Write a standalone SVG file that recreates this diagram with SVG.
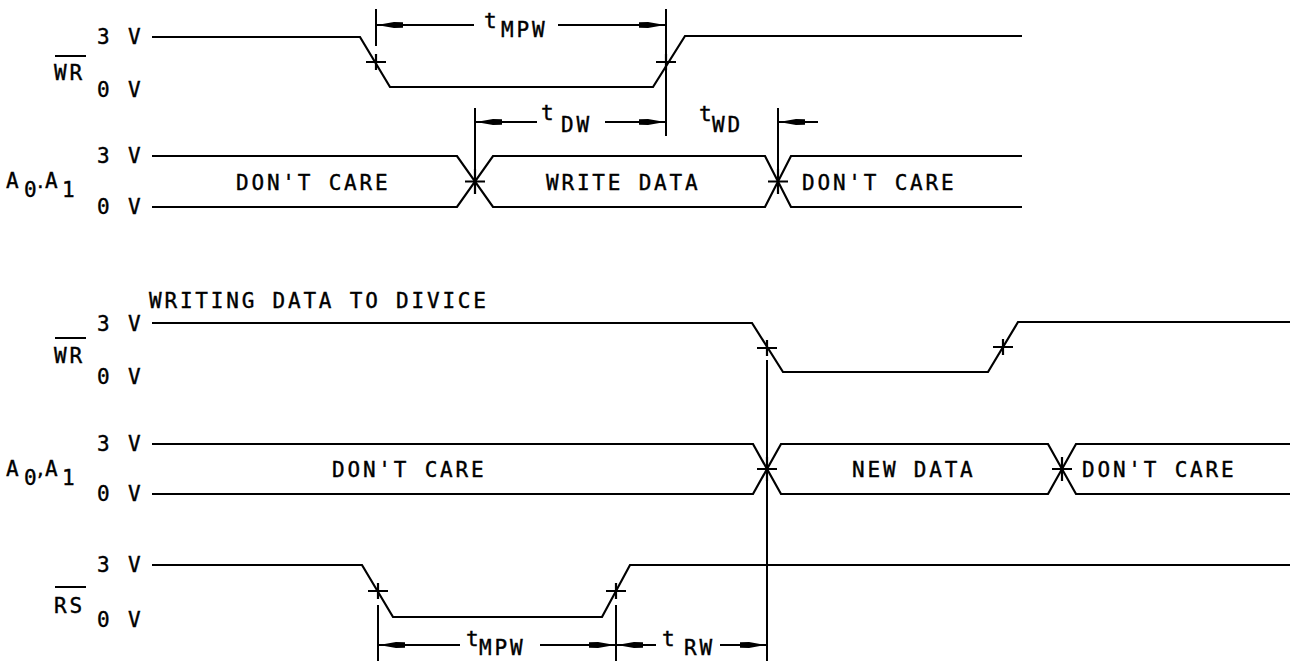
<svg xmlns="http://www.w3.org/2000/svg" width="1290" height="661" viewBox="0 0 1290 661">
<style>
  text { font-family: "DejaVu Sans Mono", "Liberation Mono", monospace; font-size: 21px; fill: #000; stroke: #000; stroke-width: 0.4px; letter-spacing: 2.8px; }
  .sig { fill: none; stroke: #000; stroke-width: 2.2; stroke-linejoin: miter; }
  .tick { fill: none; stroke: #000; stroke-width: 2.2; }
  .dim { fill: none; stroke: #000; stroke-width: 2; }
  .arr { fill: none; stroke: #000; stroke-width: 2; marker-end: url(#ah); }
  .ov { stroke: #000; stroke-width: 2; }
  .nls { letter-spacing: 0; }
  .pt { font-family: "DejaVu Sans", sans-serif; letter-spacing: 0; }
</style>
<defs>
  <marker id="ah" viewBox="0 0 26 8" markerWidth="26" markerHeight="8" refX="26" refY="4" orient="auto" markerUnits="userSpaceOnUse">
    <path d="M0,1.2 Q-1.5,4 0,6.8 L9,7 L26,4 L9,1 z" fill="#000"/>
  </marker>
</defs>

<!-- TOP SECTION -->
<g id="top-wr">
  <text x="97" y="44">3 V</text>
  <text x="97" y="97">0 V</text>
  <text x="54" y="80">WR</text>
  <line class="ov" x1="55" y1="56" x2="86" y2="56"/>
  <path class="sig" d="M152,37 H360 L390,87 H653 L685,36 H1022"/>
  <path class="tick" d="M366,62 H386 M376,54 V70 M656,62 H676 M666,54 V70"/>
</g>

<g id="top-a0a1">
  <text class="nls" x="6" y="188">A</text>
  <text class="nls" x="24" y="197">0</text>
  <text class="pt" x="37" y="188">.</text>
  <text class="nls" x="45" y="188">A</text>
  <text class="nls" x="62" y="197">1</text>
  <text x="97" y="163">3 V</text>
  <text x="97" y="214">0 V</text>
  <path class="sig" d="M152,156 H457 L493,207 H765 L791,156 H1022"/>
  <path class="sig" d="M152,207 H457 L493,156 H765 L791,207 H1022"/>
  <path class="tick" d="M465,181.5 H485 M475,169 V194 M768,181.5 H788 M778,169 V194"/>
  <text x="236" y="190">DON'T CARE</text>
  <text x="546" y="190">WRITE DATA</text>
  <text x="802" y="190">DON'T CARE</text>
</g>

<!-- BOTTOM SECTION -->
<g id="title">
  <text x="149" y="308">WRITING DATA TO DIVICE</text>
</g>

<g id="bottom-wr">
  <text x="97" y="331">3 V</text>
  <text x="97" y="384">0 V</text>
  <text x="54" y="363">WR</text>
  <line class="ov" x1="55" y1="338" x2="86" y2="338"/>
  <path class="sig" d="M152,323 H752 L783,372 H988 L1018,322 H1290"/>
  <path class="tick" d="M757,348 H777 M767,340 V356 M993,347 H1013 M1003,339 V355"/>
</g>

<g id="bottom-a0a1">
  <text class="nls" x="6" y="476">A</text>
  <text class="nls" x="24" y="485">0</text>
  <text class="pt" x="37" y="476">,</text>
  <text class="nls" x="45" y="476">A</text>
  <text class="nls" x="62" y="485">1</text>
  <text x="97" y="451">3 V</text>
  <text x="97" y="501">0 V</text>
  <path class="sig" d="M152,444 H753 L781,494 H1048 L1076,444 H1290"/>
  <path class="sig" d="M152,494 H753 L781,444 H1048 L1076,494 H1290"/>
  <path class="tick" d="M757,469 H777 M767,457 V481 M1052,469 H1072 M1062,457 V481"/>
  <text x="332" y="477">DON'T CARE</text>
  <text x="852" y="477">NEW DATA</text>
  <text x="1082" y="477">DON'T CARE</text>
</g>

<g id="bottom-rs">
  <text x="97" y="572">3 V</text>
  <text x="97" y="627">0 V</text>
  <text x="54" y="613">RS</text>
  <line class="ov" x1="55" y1="587" x2="86" y2="587"/>
  <path class="sig" d="M152,565 H362 L393,617 H602 L630,565 H1290"/>
  <path class="tick" d="M368,591 H388 M378,583 V599 M606,591 H626 M616,583 V599"/>
</g>

<!-- CONNECTORS / DIMENSIONS -->
<g id="connectors">
  <line class="dim" x1="376" y1="9" x2="376" y2="46"/>
  <line class="dim" x1="666" y1="9" x2="666" y2="136"/>
  <line class="arr" x1="474" y1="25" x2="377" y2="25"/>
  <line class="arr" x1="558" y1="25" x2="665" y2="25"/>
  <line class="dim" x1="475" y1="108" x2="475" y2="170"/>
  <line class="arr" x1="537" y1="122" x2="476" y2="122"/>
  <line class="arr" x1="605" y1="122" x2="665" y2="122"/>
  <line class="dim" x1="778" y1="108" x2="778" y2="170"/>
  <line class="arr" x1="818" y1="122" x2="779" y2="122"/>
  <line class="dim" x1="767" y1="360" x2="767" y2="661"/>
  <line class="dim" x1="378" y1="605" x2="378" y2="661"/>
  <line class="dim" x1="616" y1="605" x2="616" y2="661"/>
  <line class="arr" x1="460" y1="645" x2="379" y2="645"/>
  <line class="arr" x1="540" y1="645" x2="615" y2="645"/>
  <line class="arr" x1="656" y1="645" x2="617" y2="645"/>
  <line class="arr" x1="720" y1="645" x2="766" y2="645"/>
</g>

<g id="timing-labels">
  <text x="484" y="28">t</text><text x="501" y="37">MPW</text>
  <text x="541" y="120">t</text><text x="561" y="132">DW</text>
  <text x="699" y="121">t</text><text x="712" y="132">WD</text>
  <text x="466" y="646">t</text><text x="479" y="655">MPW</text>
  <text x="662" y="646">t</text><text x="684" y="655">RW</text>
</g>
</svg>
